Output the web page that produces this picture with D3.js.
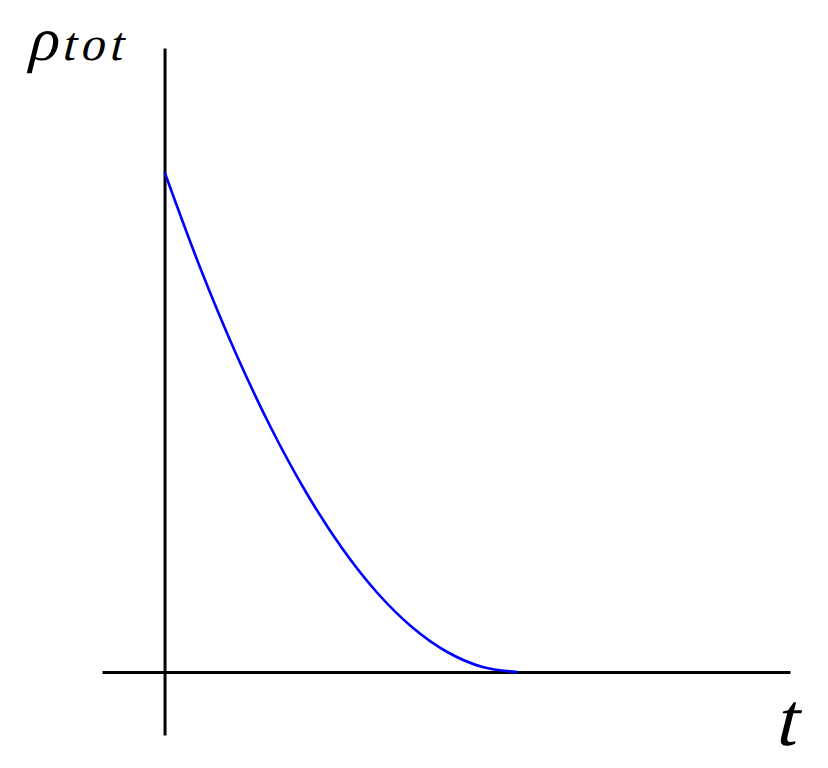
<!DOCTYPE html>
<html>
<head>
<meta charset="utf-8">
<script src="https://cdn.jsdelivr.net/npm/d3@7"></script>
<style>
  html, body { margin: 0; padding: 0; background: #fff; }
  svg { display: block; }
  .lbl { font-family: "Liberation Serif", "Times New Roman", serif; font-style: normal; fill: #000; }
</style>
</head>
<body>
<svg id="chart" width="828" height="768"></svg>
<script>
// Data (t normalised to the point where the curve reaches zero)
const tValues   = [0, 0.1, 0.2, 0.3, 0.4, 0.5, 0.6, 0.7, 0.8, 0.9, 1.0];
const rhoValues = [1.0, 0.81, 0.64, 0.49, 0.36, 0.25, 0.16, 0.09, 0.04, 0.01, 0.0];
const xExtent = [-0.177, 1.77];
const yExtent = [-0.126, 1.248];
const xLabel = "t";
const yLabelMain = "ρ";
const yLabelSub = "tot";

const svg = d3.select("#chart");
const x = d3.scaleLinear().domain(xExtent).range([102, 790]);
const y = d3.scaleLinear().domain(yExtent).range([735, 48]);

// Horizontal axis (at rho = 0)
const xAxis = svg.append("g")
  .attr("transform", `translate(0,${y(0)})`)
  .call(d3.axisBottom(x).tickValues([]).tickSizeOuter(0));
xAxis.select(".domain").attr("stroke", "#000").attr("stroke-width", 3);

// Vertical axis (at t = 0)
const yAxis = svg.append("g")
  .attr("transform", `translate(${x(0)},0)`)
  .call(d3.axisLeft(y).tickValues([]).tickSizeOuter(0));
yAxis.select(".domain").attr("stroke", "#000").attr("stroke-width", 3);

// Curve
const data = tValues.map((t, i) => ({ t, r: rhoValues[i] }));
const line = d3.line().x(d => x(d.t)).y(d => y(d.r)).curve(d3.curveMonotoneX);
svg.append("path")
  .datum(data)
  .attr("d", line)
  .attr("fill", "none")
  .attr("stroke", "#0000ff")
  .attr("stroke-width", 2.6);

// Labels (slanted upright serif to mimic math italic)
const yl = svg.append("text").attr("class", "lbl")
  .attr("transform", "translate(26,60) skewX(-14)");
yl.append("tspan").attr("font-size", 62).text(yLabelMain);
yl.append("tspan").attr("font-size", 48).attr("dx", 4).attr("letter-spacing", 5).text(yLabelSub);

svg.append("text").attr("class", "lbl")
  .attr("transform", "translate(774,745) skewX(-14)")
  .attr("font-size", 76)
  .text(xLabel);
</script>
</body>
</html>
